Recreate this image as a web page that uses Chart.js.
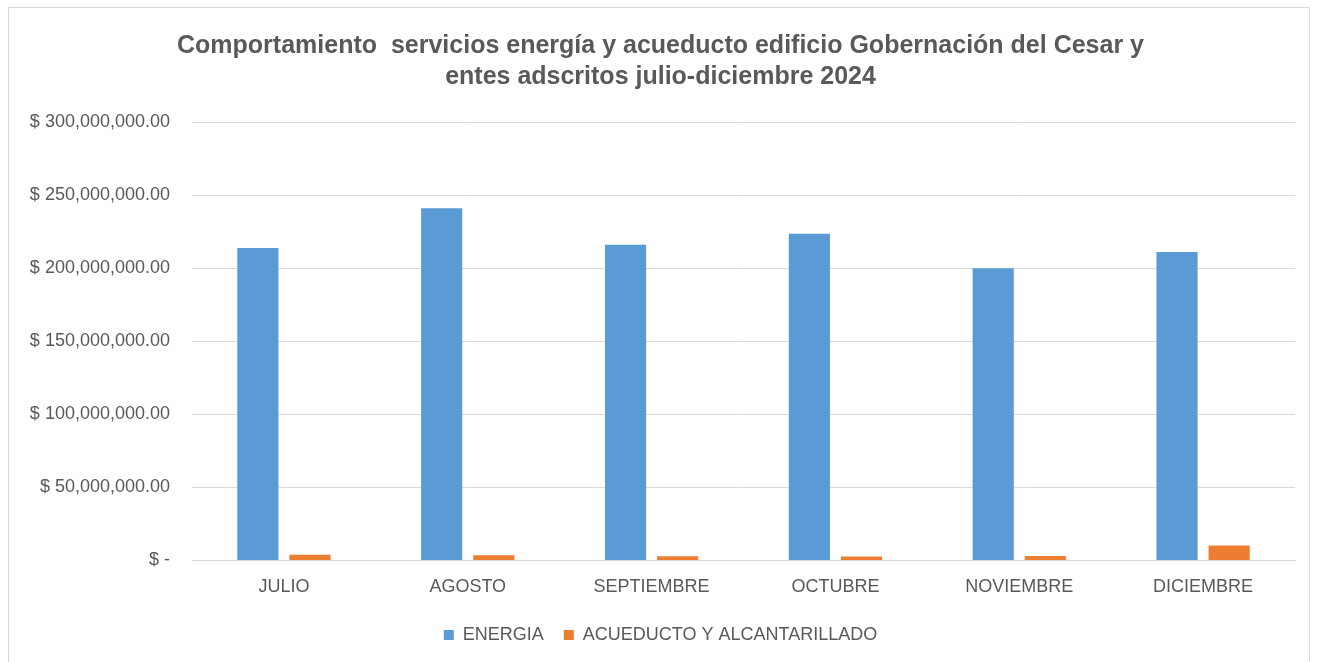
<!DOCTYPE html>
<html>
<head>
<meta charset="utf-8">
<script src="https://cdn.jsdelivr.net/npm/chart.js@4"></script>
<style>
  body { margin: 0; background: #fff; }
  #wrap { position: relative; width: 1318px; height: 662px; }
  #frame { position: absolute; left: 8px; top: 7px; width: 1302px; height: 660px; border: 1px solid #d9d9d9; box-sizing: border-box; pointer-events: none; }
  canvas { position: absolute; left: 0; top: 0; }
</style>
</head>
<body>
<div id="wrap">
  <canvas id="chart" width="1318" height="662"></canvas>
  <div id="frame"></div>
</div>
<script>
// datos
var meses = ['JULIO', 'AGOSTO', 'SEPTIEMBRE', 'OCTUBRE', 'NOVIEMBRE', 'DICIEMBRE'];
var energia = [213800000, 241000000, 216000000, 223500000, 200000000, 211000000];
var acueducto = [3900000, 3600000, 2900000, 2700000, 3000000, 10200000];
var yMin = 0, yMax = 300000000, yPaso = 50000000;
var titulo = ['Comportamiento  servicios energía y acueducto edificio Gobernación del Cesar y', 'entes adscritos julio-diciembre 2024'];

var gris = '#595959';
var fuente = "'Liberation Sans', Arial, sans-serif";

function formato(v) {
  if (v == 0) return '$ -';
  return '$ ' + v.toLocaleString('en-US', { minimumFractionDigits: 2, maximumFractionDigits: 2 });
}

Chart.defaults.font.family = fuente;
Chart.defaults.color = gris;

new Chart(document.getElementById('chart'), {
  type: 'bar',
  data: {
    labels: meses,
    datasets: [
      { label: 'ENERGIA', data: energia, backgroundColor: '#5b9bd5', categoryPercentage: 0.567, barPercentage: 0.79 },
      { label: 'ACUEDUCTO Y ALCANTARILLADO', data: acueducto, backgroundColor: '#ed7d31', categoryPercentage: 0.567, barPercentage: 0.79 }
    ]
  },
  options: {
    responsive: false,
    animation: false,
    layout: { padding: { left: 26, right: 23, top: 31, bottom: 8 } },
    plugins: {
      title: {
        display: true,
        text: titulo,
        color: gris,
        font: { size: 25, weight: 'bold', lineHeight: 1.22 },
        padding: { top: 0, bottom: 30 }
      },
      legend: {
        position: 'bottom',
        labels: { boxWidth: 10, boxHeight: 10, color: gris, font: { size: 18 }, padding: 20 }
      },
      tooltip: { enabled: false }
    },
    scales: {
      x: {
        grid: { display: false },
        border: { color: '#d9d9d9', width: 1 },
        ticks: { color: gris, font: { size: 18 }, padding: 8 }
      },
      y: {
        min: yMin,
        max: yMax,
        afterFit: function (s) { s.width = 166; },
        grid: { color: '#d9d9d9', lineWidth: 1, drawTicks: false },
        border: { display: false },
        ticks: { stepSize: yPaso, color: gris, font: { size: 18 }, padding: 22, callback: function (v) { return formato(v); } }
      }
    }
  }
});
</script>
</body>
</html>
